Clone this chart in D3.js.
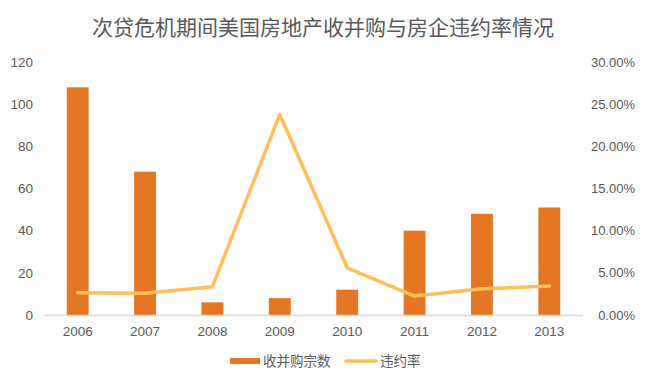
<!DOCTYPE html>
<html>
<head>
<meta charset="utf-8">
<script src="https://cdn.jsdelivr.net/npm/d3@7"></script>
<style>
  body { margin: 0; background: #fff; }
  text { font-family: "Liberation Sans", "Noto Sans CJK SC", sans-serif; }
</style>
</head>
<body>
<svg id="chart" width="645" height="383"></svg>
<script>
"use strict";

var categories = ["2006", "2007", "2008", "2009", "2010", "2011", "2012", "2013"];
var mergerCounts = [108, 68, 6, 8, 12, 40, 48, 51];
var defaultRates = [0.0265, 0.0257, 0.0336, 0.238, 0.056, 0.0225, 0.031, 0.0345];
var leftTicks = [0, 20, 40, 60, 80, 100, 120];
var rightTicks = [0, 0.05, 0.10, 0.15, 0.20, 0.25, 0.30];

var title = "次贷危机期间美国房地产收并购与房企违约率情况";
var barName = "收并购宗数";
var lineName = "违约率";

var BAR_COLOR = "#E57724";
var LINE_COLOR = "#FFBF5A";
var TEXT_COLOR = "#595959";

var svg = d3.select("#chart");
var margin = { left: 44, right: 62, top: 62, bottom: 68 };
var width = 645 - margin.left - margin.right;
var height = 383 - margin.top - margin.bottom;

var x = d3.scaleBand().domain(categories).range([0, width]).paddingInner(0.675).paddingOuter(0.3375);
var xBand = d3.scaleBand().domain(categories).range([0, width]);
var yLeft = d3.scaleLinear().domain([0, 120]).range([height, 0]);
var yRight = d3.scaleLinear().domain([0, 0.30]).range([height, 0]);

svg.append("text")
  .attr("x", 323).attr("y", 35)
  .attr("text-anchor", "middle")
  .attr("font-size", 21)
  .attr("fill", TEXT_COLOR)
  .text(title);

var g = svg.append("g").attr("transform", "translate(" + margin.left + "," + margin.top + ")");

// left axis labels
g.selectAll("text.yl")
  .data(leftTicks)
  .enter().append("text")
  .attr("class", "yl")
  .attr("x", -11)
  .attr("y", function (d) { return yLeft(d); })
  .attr("dy", "0.35em")
  .attr("text-anchor", "end")
  .attr("font-size", 13.5)
  .attr("fill", TEXT_COLOR)
  .text(function (d) { return d; });

// right axis labels
g.selectAll("text.yr")
  .data(rightTicks)
  .enter().append("text")
  .attr("class", "yr")
  .attr("x", width + 52)
  .attr("y", function (d) { return yRight(d); })
  .attr("dy", "0.35em")
  .attr("text-anchor", "end")
  .attr("font-size", 13)
  .attr("fill", TEXT_COLOR)
  .text(function (d) { return d3.format(".2%")(d); });

// bars
g.selectAll("rect.bar")
  .data(mergerCounts)
  .enter().append("rect")
  .attr("class", "bar")
  .attr("x", function (d, i) { return x(categories[i]); })
  .attr("y", function (d) { return yLeft(d); })
  .attr("width", x.bandwidth())
  .attr("height", function (d) { return height - yLeft(d); })
  .attr("fill", BAR_COLOR);

// x axis line
g.append("line")
  .attr("x1", 0).attr("x2", width)
  .attr("y1", height + 0.5).attr("y2", height + 0.5)
  .attr("stroke", "#D9D9D9")
  .attr("stroke-width", 1.5);

// x labels
g.selectAll("text.xl")
  .data(categories)
  .enter().append("text")
  .attr("class", "xl")
  .attr("x", function (d) { return xBand(d) + xBand.bandwidth() / 2; })
  .attr("y", height + 21)
  .attr("text-anchor", "middle")
  .attr("font-size", 13.5)
  .attr("fill", TEXT_COLOR)
  .text(function (d) { return d; });

// line
var line = d3.line()
  .x(function (d, i) { return xBand(categories[i]) + xBand.bandwidth() / 2; })
  .y(function (d) { return yRight(d); });

g.append("path")
  .datum(defaultRates)
  .attr("d", line)
  .attr("fill", "none")
  .attr("stroke", LINE_COLOR)
  .attr("stroke-width", 3.5)
  .attr("stroke-linecap", "round")
  .attr("stroke-linejoin", "round");

// legend
var legend = svg.append("g").attr("transform", "translate(0,361)");
legend.append("rect")
  .attr("x", 230).attr("y", -3)
  .attr("width", 30).attr("height", 6)
  .attr("fill", BAR_COLOR);
legend.append("text")
  .attr("x", 263).attr("y", 0).attr("dy", "0.35em")
  .attr("font-size", 13.5)
  .attr("fill", TEXT_COLOR)
  .text(barName);
legend.append("line")
  .attr("x1", 346).attr("x2", 376)
  .attr("y1", 0).attr("y2", 0)
  .attr("stroke", LINE_COLOR)
  .attr("stroke-width", 3.5)
  .attr("stroke-linecap", "round");
legend.append("text")
  .attr("x", 380).attr("y", 0).attr("dy", "0.35em")
  .attr("font-size", 13.5)
  .attr("fill", TEXT_COLOR)
  .text(lineName);
</script>
</body>
</html>
